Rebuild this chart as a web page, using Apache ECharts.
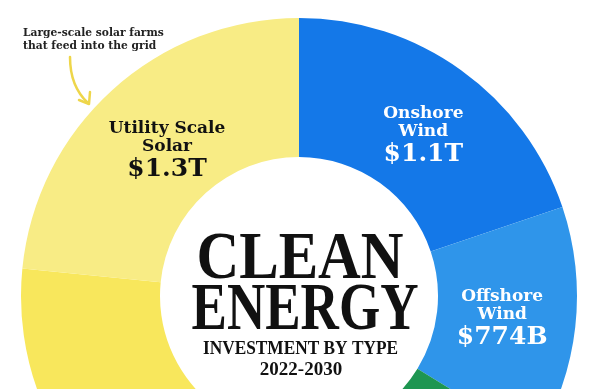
<!DOCTYPE html>
<html>
<head>
<meta charset="utf-8">
<script src="https://cdn.jsdelivr.net/npm/echarts@6/dist/echarts.min.js"></script>
<style>
  html, body { margin: 0; padding: 0; background: #ffffff; }
  #chart { width: 598px; height: 389px; }
</style>
</head>
<body>
<div id="chart"></div>
<script>
// ---- data (trillions USD), clockwise from 12 o'clock ----
const categories = ["Onshore Wind", "Offshore Wind", "Hydropower", "Nuclear", "Other", "Distributed Solar", "Utility Scale Solar"];
const values = [1.1, 0.774, 0.55, 0.5, 0.476, 0.85, 1.3];
const labelNames = ["Onshore\nWind", "Offshore\nWind", "", "", "", "", "Utility Scale\nSolar"];
const showLabel = [true, true, false, false, false, false, true];
const colors = ["#1478E8", "#2F95EA", "#1E9651", "#7A5BC4", "#F08A3C", "#F8E75C", "#F8EC85"];
const labelColors = ["#ffffff", "#ffffff", "#ffffff", "#ffffff", "#ffffff", "#111111", "#111111"];

function fmtValue(v) {
  return v >= 1 ? "$" + v.toFixed(1) + "T" : "$" + Math.round(v * 1000) + "B";
}

const chart = echarts.init(document.getElementById('chart'), null, { renderer: 'canvas' });

const labelShift = [[1, 12], [-7, 0], [0, 0], [0, 0], [0, 0], [0, 0], [10, 12]];

const option = {
  backgroundColor: '#ffffff',
  animation: false,
  series: [{
    type: 'pie',
    silent: true,
    center: [299, 296],
    radius: [139, 278],
    startAngle: 90,
    clockwise: true,
    avoidLabelOverlap: false,
    labelLine: { show: false },
    data: categories.map((c, i) => ({
      name: c,
      value: values[i],
      itemStyle: { color: colors[i] },
      label: {
        show: showLabel[i],
        position: 'inside',
        formatter: () => labelNames[i].split('\n').map(s => '{n|' + s + '}').join('\n') + '\n{v|' + fmtValue(values[i]) + '}',
        rich: {
          n: { fontFamily: 'DejaVu Serif', fontWeight: 'bold', fontSize: 17, lineHeight: 18, color: labelColors[i], align: 'center' },
          v: { fontFamily: 'DejaVu Serif', fontWeight: 'bold', fontSize: 25, lineHeight: 28, color: labelColors[i], align: 'center' }
        }
      }
    })),
    labelLayout: p => ({ dx: labelShift[p.dataIndex][0], dy: labelShift[p.dataIndex][1] })
  }],
  graphic: [
    {
      type: 'text', x: 300, y: 260, scaleX: 0.87,
      style: { text: 'CLEAN', x: 0, y: 0, align: 'center', verticalAlign: 'middle',
        font: 'bold 68px "Liberation Serif"', fill: '#111111' }
    },
    {
      type: 'text', x: 305, y: 311, scaleX: 0.78,
      style: { text: 'ENERGY', x: 0, y: 0, align: 'center', verticalAlign: 'middle',
        font: 'bold 68px "Liberation Serif"', fill: '#111111' }
    },
    {
      type: 'text', x: 300.5, y: 349, scaleX: 0.91,
      style: { text: 'INVESTMENT BY TYPE', x: 0, y: 0, align: 'center', verticalAlign: 'middle',
        font: 'bold 19px "Liberation Serif"', fill: '#111111' }
    },
    {
      type: 'text', x: 301, y: 370,
      style: { text: '2022-2030', x: 0, y: 0, align: 'center', verticalAlign: 'middle',
        font: 'bold 19px "Liberation Serif"', fill: '#111111' }
    },
    {
      type: 'text', x: 23, y: 27,
      style: { text: 'Large-scale solar farms\nthat feed into the grid', x: 0, y: 0, align: 'left', verticalAlign: 'top',
        font: 'bold 10.7px "DejaVu Serif"', lineHeight: 13, fill: '#222222' }
    },
    {
      type: 'bezierCurve',
      shape: { x1: 70, y1: 57, cpx1: 70, cpy1: 78, cpx2: 76, cpy2: 92, x2: 88, y2: 103 },
      style: { stroke: '#EED64A', lineWidth: 2.5, fill: null, lineCap: 'round' }
    },
    {
      type: 'polyline',
      shape: { points: [[79, 100], [89, 104], [90, 92]] },
      style: { stroke: '#EED64A', lineWidth: 2.5, fill: null, lineCap: 'round', lineJoin: 'round' }
    }
  ]
};

chart.setOption(option);
</script>
</body>
</html>
